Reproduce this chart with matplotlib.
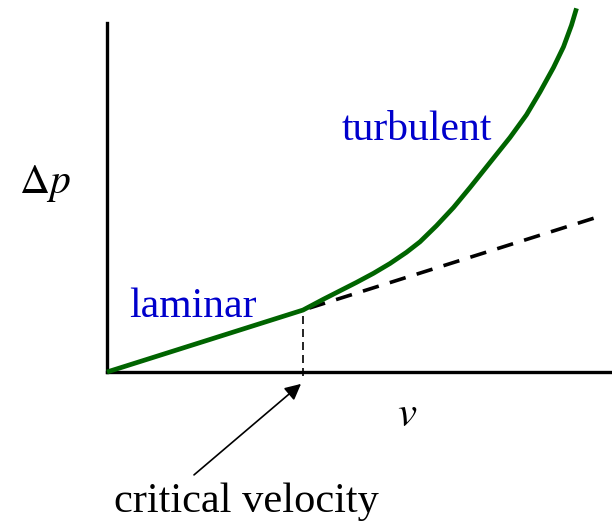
import matplotlib.pyplot as plt

plt.rcParams['font.family'] = ['Liberation Serif', 'DejaVu Serif']
plt.rcParams['mathtext.fontset'] = 'stix'

# ======================
# データ（軸の原点 = 0, 縦軸の上端 ≈ 1）
# ======================
v_crit = 0.392
dp_crit = 0.177

# 層流（直線）
v_laminar = [0.0, v_crit]
dp_laminar = [0.0, dp_crit]

# 乱流（曲線）
v_turb = [0.392, 0.433, 0.466, 0.499, 0.533, 0.566, 0.599, 0.626, 0.659, 0.693,
          0.726, 0.759, 0.806, 0.839, 0.866, 0.893, 0.913, 0.929, 0.939]
dp_turb = [0.177, 0.208, 0.232, 0.256, 0.282, 0.310, 0.342, 0.372, 0.418, 0.470,
           0.527, 0.586, 0.670, 0.735, 0.800, 0.870, 0.929, 0.991, 1.039]

# 層流の延長（破線）
v_ext = [v_crit, 0.975]
dp_ext = [dp_crit, 0.44]

green = "#006400"
blue = "#0000cc"

fig = plt.figure(figsize=(6.12, 5.23), dpi=100)
# 原点をピクセル (107, 372) に合わせる
ax = fig.add_axes([107 / 612, (523 - 372) / 523, 505 / 612, 372 / 523])
ax.set_xlim(0, 505 / 500)
ax.set_ylim(0, 372 / 350)

ax.plot(v_laminar + v_turb[1:], dp_laminar + dp_turb[1:],
        color=green, lw=3.4, solid_capstyle="butt", solid_joinstyle="round",
        clip_on=False, zorder=3)
ax.plot(v_ext, dp_ext, color="black", lw=2.6, linestyle=(6, (4.6, 3.2)), zorder=2)
ax.plot([v_crit, v_crit], [-0.012, dp_crit], color="black", lw=1.2,
        linestyle=(0, (4.8, 3.0)), clip_on=False, zorder=2)

# 軸
for s in ["top", "right"]:
    ax.spines[s].set_visible(False)
ax.spines["left"].set_linewidth(2.4)
ax.spines["bottom"].set_linewidth(2.4)
ax.spines["left"].set_bounds(0, 0.997)
ax.set_xticks([])
ax.set_yticks([])

# ラベル
ax.text(0.172, 0.157, "laminar", color=blue, fontsize=30, ha="center", va="baseline")
ax.text(0.619, 0.663, "turbulent", color=blue, fontsize=30, ha="center", va="baseline")
ax.text(-0.124, 0.511, r"$\Delta p$", fontsize=30, ha="center", va="baseline")
ax.text(0.6, -0.154, r"$v$", fontsize=31, ha="center", va="baseline")

ax.text(0.278, -0.40, "critical velocity", fontsize=30.5, ha="center",
        va="baseline", clip_on=False)
ax.annotate("", xy=(0.388, -0.034), xytext=(0.174, -0.294),
            annotation_clip=False,
            arrowprops=dict(arrowstyle="-|>", color="black", lw=1.2,
                            mutation_scale=24, shrinkA=0, shrinkB=0))

fig.savefig("out.png", dpi=100)
